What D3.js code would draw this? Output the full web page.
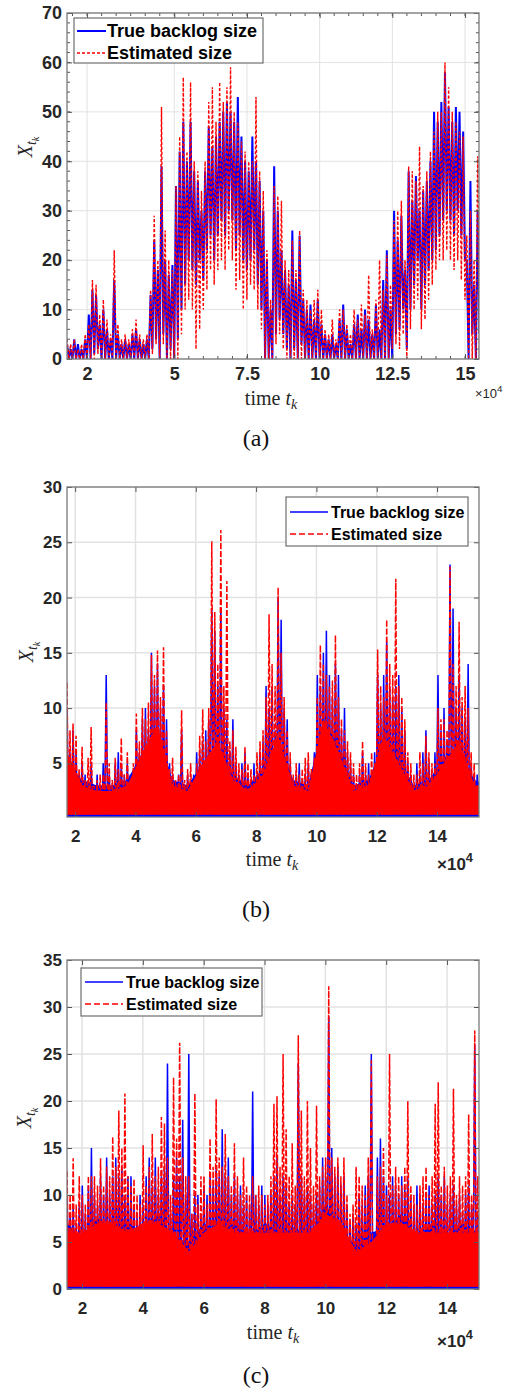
<!DOCTYPE html>
<html><head><meta charset="utf-8">
<script src="https://cdn.jsdelivr.net/npm/d3@7"></script>
<style>body{margin:0;background:#fff}</style>
</head><body>
<svg id="chart" width="513" height="1391"></svg>
<script>
// ---------------- DATA ----------------
// Panel (a): samples every 0.125 (x1e4) starting at 1.31; peak and trough per sample
const aStart = 1.31, aStep = 0.125;
const aTruePeak = [3,2,4,3,2,4,9,14,13,7,10,6,4,16,5,3,4,3,5,6,4,3,4,13,24,18,39,20,17,19,35,42,48,40,48,38,36,30,38,47,43,45,48,50,52,50,48,53,45,40,38,45,40,36,30,20,10,39,30,22,18,15,26,16,25,12,10,11,8,12,7,5,4,5,3,8,11,6,3,7,9,6,10,8,5,11,6,16,22,10,30,24,29,18,38,32,37,30,34,36,40,50,48,52,58,51,48,51,50,46,20,36,15,30];
const aTrueLow  = [0,0,0,0,0,0,0,1,2,0,0,0,0,0,0,0,0,0,0,0,0,0,0,2,4,0,5,0,2,0,4,10,15,20,18,15,20,16,22,25,20,25,28,25,30,28,22,25,20,18,20,22,15,10,0,0,0,5,8,5,2,0,2,0,3,0,0,0,0,0,0,0,0,0,0,0,0,0,0,0,0,0,0,0,0,0,0,0,0,0,5,6,10,2,10,15,20,10,15,18,20,22,25,28,30,28,25,30,25,20,0,5,0,5];
const aEstPeak  = [4,3,4,2,3,5,7,16,15,9,12,8,5,22,7,4,5,4,6,8,5,4,5,14,29,20,51,26,20,18,35,45,57,42,56,40,38,34,40,52,55,48,56,52,55,59,50,48,44,42,40,40,53,38,34,22,12,35,33,32,20,18,24,18,26,14,12,10,12,14,10,6,5,8,4,10,10,7,5,10,8,11,9,17,6,12,20,14,21,15,28,30,32,20,39,38,36,43,35,38,42,46,50,50,60,55,50,48,46,45,25,30,20,41];
const aEstLow   = [0,0,0,0,0,0,0,0,1,0,0,0,0,0,0,0,0,0,0,0,0,0,0,1,3,0,3,0,0,0,0,5,10,12,10,2,6,10,14,18,15,18,20,18,22,20,14,16,10,12,15,14,10,6,0,0,0,3,5,2,0,0,0,0,0,0,0,0,0,0,0,0,0,0,0,0,0,0,0,0,0,0,0,0,0,0,0,0,0,2,3,2,5,0,6,10,12,6,8,12,15,18,20,20,22,20,18,20,16,12,0,0,0,0];

// Panel (b): spikes every 0.1 (x1e4) starting at 1.73, returning to a baseline
const bStart = 1.73, bStep = 0.1;
const bTruePeak = [10,6,8,6,4,5,4,3,5,3,4,3,5,13,4,3,5,6,5,4,5,4,3,8,6,9,10,8,15,12,14,10,12,9,5,4,3,4,8,3,4,3,4,6,6,7,8,9,19,17,12,19,10,9,6,9,5,4,5,6,4,3,5,4,6,7,12,10,12,8,20,18,10,9,5,3,4,5,3,4,5,4,6,13,12,15,17,13,11,14,13,8,10,6,5,4,3,4,6,4,5,4,6,13,10,13,16,12,11,12,13,10,8,5,4,3,5,4,6,8,5,4,6,13,8,10,7,23,19,10,13,10,9,14,5,4,4];
const bEstPeak  = [12.3,8,8.6,7.5,4.5,6.5,3.5,5.5,8.3,3,3.5,4,4,10.5,5,3.5,5.5,4.5,7.3,4,6,3.5,5,9.5,7,10,9,10.5,14.8,13,15.2,11,15.5,8,4.5,5.5,3.5,4,9.8,3.5,4.5,5,3.5,5,7.5,9.9,7,10,25.1,18.7,14,26.1,12,21.5,7,8,6.5,5,4.5,6.5,5,4.5,4,6,7,8,11,18.5,14,12,20.9,15,11,8,6,4,5,4,4.5,5.5,6,4.5,5.5,11,15.7,14,13,12,12.5,16.6,11,9,8,7,6,5,4,5,7,5,4,6,5,15.3,12,11,18,14,13,21.7,12,11,9,6,5,4,4,6,5,7.5,6,5,5,10,9,9,8,22.8,14,12,17.8,11,12,10,6,5,3];
const bTrueBase = 0, bEstBase = 0.35;
// Panel (b): upper edge of the dense band, every 0.5 (x1e4) from 1.73
const bBandStart = 1.73, bBandStep = 0.5;
const bTrueBand = [5,3.5,3,3,3.5,6,8,3.5,3,5,6.5,4,3,4.5,7,3.5,3,9,6.5,3,3.5,7,5.5,3,3.5,5.5,6.5,3.5,3];
const bEstBand  = [6,3,2.5,2.5,3,6,8.5,3,2.5,5,7,3.5,2.5,4,7.5,3,2.5,9,6,2.5,3,7.5,5,2.5,3,5,7,3,3];

// Panel (c): spikes every 0.1 (x1e4) starting at 1.51
const cStart = 1.51, cStep = 0.1;
const cTruePeak = [10,8,9,7,9,11,8,11,15,10,9,12,10,14,10,12,14,12,13,10,12,12,9,8,10,9,12,14,11,14,10,12,13,24,8,12,14,12,18,10,25,8,10,10,8,11,10,12,11,13,12,17,12,14,10,12,10,11,9,10,9,21,10,9,11,10,9,10,12,14,10,12,11,9,10,9,24,12,10,11,10,9,10,11,14,12,29,15,12,13,11,12,9,7,8,7,10,9,11,12,25,3,14,16,12,11,10,12,11,10,12,11,12,10,9,11,10,9,10,11,9,10,12,10,12,9,10,11,9,10,8,10,11,9,26,8];
const cEstPeak  = [12.5,10,13.9,9,12,10,9,12,12,12,11,13.9,11,13,12,16.2,13,19,15,20.8,12,11,11.7,10,9,15.3,11,13,16.5,12,13,18.3,17.6,14,10,22.5,16,26.2,14,12,12,8,20.8,9,12,12,9,16,13,20.2,14,13,16.5,12,11,15.5,12,10,14,11,10,12,10,11,10,9,10,12,19.7,20.5,13,25,17,12,15.5,11,27,19,12,20,15,11,19.5,12,13,14,32.2,14,13,14,12,14,10,8,9,13,12,11,10,14,24.3,4,12,13,15,10,25,11,13,12,11,13,20,11,10,9,11,12,13,10,12,19.7,22,11,13,11,12,21.3,10,12,11,12,18.6,10,27.5,12];
const cTrueBase = 0, cEstBase = 0.25;
// Panel (c): upper edge of the dense band, every 0.5 (x1e4) from 1.51
const cBandStart = 1.51, cBandStep = 0.5;
const cTrueBand = [7,5.5,7.5,6.5,7,6,8,5.5,5,7,6,7,5.5,7,6,6.5,5.5,9,6.5,4.5,6,6.5,8,5.5,7,5.5,7,6,6];
const cEstBand  = [6,6,7,7,6,7,7,6,4,6,7,6,6,6,6,6,6,8,7,4,5,7,7,6,6,6,6,6,6];

// Axis ticks and labels
const aYTicks = [0,10,20,30,40,50,60,70];
const aXTicks = [2,5,7.5,10,12.5,15];
const bYTicks = [5,10,15,20,25,30];
const bXTicks = [2,4,6,8,10,12,14];
const cYTicks = [0,5,10,15,20,25,30,35];
const cXTicks = [2,4,6,8,10,12,14];
const seriesNames = ["True backlog size", "Estimated size"];
const captions = ["(a)", "(b)", "(c)"];

// ---------------- DRAW ----------------
const svg = d3.select("#chart");
const L = 67, R = 479;
const BLUE = "#0000ff", RED = "#ff0000";

function zig(peaks, lows, t0, step) {
  const pts = [];
  peaks.forEach((p, i) => {
    pts.push([t0 + i * step, p]);
    const lo = Array.isArray(lows) ? lows[i] : lows;
    pts.push([t0 + (i + 0.5) * step, lo]);
  });
  return pts;
}

function drawPanel(cfg) {
  const x = d3.scaleLinear().domain(cfg.xDomain).range([L, R]);
  const y = d3.scaleLinear().domain(cfg.yDomain).range([cfg.bottom, cfg.top]);
  const g = svg.append("g");
  const gridW = cfg.gridW;
  // grid
  g.append("g").selectAll("line").data(cfg.xTicks).join("line")
    .attr("x1", d => x(d)).attr("x2", d => x(d)).attr("y1", cfg.top).attr("y2", cfg.bottom)
    .attr("stroke", "#e2e2e2").attr("stroke-width", gridW);
  g.append("g").selectAll("line").data(cfg.yTicks).join("line")
    .attr("x1", L).attr("x2", R).attr("y1", d => y(d)).attr("y2", d => y(d))
    .attr("stroke", "#e2e2e2").attr("stroke-width", gridW);

  // clip
  const cid = "clip-" + cfg.name;
  svg.append("clipPath").attr("id", cid).append("rect")
    .attr("x", L).attr("y", cfg.top).attr("width", R - L).attr("height", cfg.bottom - cfg.top);
  const line = d3.line().x(d => x(d[0])).y(d => y(d[1]));
  const dg = g.append("g").attr("clip-path", `url(#${cid})`);

  function band(vals, base, color) {
    if (!vals) return;
    const area = d3.area()
      .x((d, i) => x(cfg.bandStart + i * cfg.bandStep))
      .y0(y(Math.max(base, cfg.yDomain[0] - 1)))
      .y1(d => y(d));
    dg.append("path").datum(vals).attr("d", area).attr("fill", color);
  }

  band(cfg.trueBand, cfg.trueLow, BLUE);
  dg.append("path").datum(zig(cfg.truePeak, cfg.trueLow, cfg.start, cfg.step))
    .attr("d", line).attr("fill", "none").attr("stroke", BLUE)
    .attr("stroke-width", cfg.blueW).attr("stroke-linejoin", "miter").attr("stroke-miterlimit", 2);
  band(cfg.estBand, cfg.estLow, RED);
  dg.append("path").datum(zig(cfg.estPeak, cfg.estLow, cfg.start, cfg.step))
    .attr("d", line).attr("fill", "none").attr("stroke", RED)
    .attr("stroke-width", cfg.redW).attr("stroke-dasharray", cfg.dash)
    .attr("stroke-linejoin", "miter").attr("stroke-miterlimit", 2);

  // axes (inward ticks)
  const fmt = d => String(d);
  const ax = g.append("g").attr("transform", `translate(0,${cfg.bottom})`)
    .call(d3.axisBottom(x).tickValues(cfg.xTicks).tickSize(-5).tickPadding(cfg.xPad).tickFormat(fmt));
  const ay = g.append("g").attr("transform", `translate(${L},0)`)
    .call(d3.axisLeft(y).tickValues(cfg.yTicks).tickSize(-5).tickPadding(5).tickFormat(fmt));
  const at = g.append("g").attr("transform", `translate(0,${cfg.top})`)
    .call(d3.axisTop(x).tickValues(cfg.xTicks).tickSize(-5).tickFormat(""));
  const ar = g.append("g").attr("transform", `translate(${R},0)`)
    .call(d3.axisRight(y).tickValues(cfg.yTicks).tickSize(-5).tickFormat(""));
  [ax, ay, at, ar].forEach(a => {
    a.select(".domain").remove();
    a.selectAll(".tick line").attr("stroke", "#555").attr("stroke-width", 1);
    a.selectAll("text").attr("font-family", "'Liberation Sans', Arial, sans-serif")
      .attr("font-weight", "bold").attr("font-size", cfg.tickFont).attr("fill", "#262626");
  });
  if (cfg.minor) {
    const mx = d3.range(Math.ceil(cfg.xDomain[0] * 2) / 2, cfg.xDomain[1], 0.5);
    const my = d3.range(cfg.yDomain[0], cfg.yDomain[1], 2);
    g.append("g").selectAll("line").data(mx).join("line")
      .attr("x1", d => x(d)).attr("x2", d => x(d)).attr("y1", cfg.bottom).attr("y2", cfg.bottom - 3)
      .attr("stroke", "#555");
    g.append("g").selectAll("line").data(mx).join("line")
      .attr("x1", d => x(d)).attr("x2", d => x(d)).attr("y1", cfg.top).attr("y2", cfg.top + 3)
      .attr("stroke", "#555");
    g.append("g").selectAll("line").data(my).join("line")
      .attr("x1", L).attr("x2", L + 3).attr("y1", d => y(d)).attr("y2", d => y(d)).attr("stroke", "#555");
    g.append("g").selectAll("line").data(my).join("line")
      .attr("x1", R).attr("x2", R - 3).attr("y1", d => y(d)).attr("y2", d => y(d)).attr("stroke", "#555");
  }
  // box
  g.append("rect").attr("x", L).attr("y", cfg.top).attr("width", R - L).attr("height", cfg.bottom - cfg.top)
    .attr("fill", "none").attr("stroke", "#7a7a7a").attr("stroke-width", 1.3);

  // x label: time t_k
  const xl = g.append("text").attr("x", cfg.xLabelX).attr("y", cfg.xLabelY)
    .attr("text-anchor", "middle").attr("font-family", "'Liberation Serif', 'Times New Roman', serif")
    .attr("font-size", cfg.labelFont).attr("fill", "#262626");
  xl.append("tspan").text("time ");
  xl.append("tspan").attr("font-style", "italic").text("t");
  xl.append("tspan").attr("font-style", "italic").attr("font-size", cfg.labelFont * 0.7).attr("dy", 4).text("k");

  // y label: X_{t_k}
  const yl = g.append("text").attr("transform", `translate(${cfg.yLabelX},${cfg.yLabelY}) rotate(-90)`)
    .attr("text-anchor", "middle").attr("font-family", "'Liberation Serif', 'Times New Roman', serif")
    .attr("font-size", cfg.labelFont).attr("font-style", "italic").attr("fill", "#262626");
  yl.append("tspan").text("X");
  yl.append("tspan").attr("font-size", cfg.labelFont * 0.7).attr("dy", 4).text("t");
  yl.append("tspan").attr("font-size", cfg.labelFont * 0.5).attr("dy", 3).text("k");

  // exponent x10^4
  const ex = g.append("text").attr("x", cfg.expX).attr("y", cfg.expY)
    .attr("font-family", "'Liberation Sans', Arial, sans-serif").attr("font-size", cfg.expFont)
    .attr("font-weight", cfg.expWeight).attr("fill", "#262626");
  ex.append("tspan").text("\u00d710");
  ex.append("tspan").attr("font-size", cfg.expFont * 0.75).attr("dy", -cfg.expFont * 0.45).text("4");

  // legend
  const lg = cfg.legend;
  g.append("rect").attr("x", lg.x).attr("y", lg.y).attr("width", lg.w).attr("height", lg.h)
    .attr("fill", "#fff").attr("stroke", "#6e6e6e").attr("stroke-width", 1.2);
  const styles = [
    {c: BLUE, w: cfg.blueW, dash: null},
    {c: RED, w: cfg.redW, dash: lg.dash}
  ];
  seriesNames.forEach((name, i) => {
    const ry = lg.rows[i];
    g.append("line").attr("x1", lg.lx1).attr("x2", lg.lx2).attr("y1", ry).attr("y2", ry)
      .attr("stroke", styles[i].c).attr("stroke-width", styles[i].w)
      .attr("stroke-dasharray", styles[i].dash);
    g.append("text").attr("x", lg.tx).attr("y", ry).attr("dy", "0.36em")
      .attr("font-family", "'Liberation Sans', Arial, sans-serif").attr("font-weight", "bold")
      .attr("font-size", lg.font).attr("fill", "#000").text(name);
  });

  // caption
  g.append("text").attr("x", 256).attr("y", cfg.capY).attr("text-anchor", "middle")
    .attr("font-family", "'Liberation Serif', 'Times New Roman', serif").attr("font-size", 24)
    .attr("fill", "#111").text(cfg.caption);
}

drawPanel({
  name: "a", top: 13, bottom: 359, xDomain: [1.31, 15.48], yDomain: [0, 70],
  xTicks: aXTicks, yTicks: aYTicks, start: aStart, step: aStep,
  truePeak: aTruePeak, trueLow: aTrueLow, estPeak: aEstPeak, estLow: aEstLow,
  blueW: 2, redW: 1.4, dash: "3,2", gridW: 1, tickFont: 18, xPad: 8, minor: true,
  labelFont: 20, xLabelX: 271, xLabelY: 405, yLabelX: 32, yLabelY: 147,
  expX: 475, expY: 398, expFont: 13, expWeight: "normal",
  legend: {x: 74, y: 18, w: 189, h: 45, rows: [31, 53], lx1: 77, lx2: 106, tx: 107, font: 18, dash: "3,2"},
  caption: captions[0], capY: 446
});
drawPanel({
  name: "b", top: 487, bottom: 817, xDomain: [1.73, 15.39], yDomain: [0.15, 30],
  xTicks: bXTicks, yTicks: bYTicks, start: bStart, step: bStep,
  truePeak: bTruePeak, trueLow: bTrueBase, estPeak: bEstPeak, estLow: bEstBase,
  bandStart: bBandStart, bandStep: bBandStep, trueBand: bTrueBand, estBand: bEstBand,
  blueW: 1.5, redW: 1.5, dash: "6,2", gridW: 1.5, tickFont: 17, xPad: 13, minor: false,
  labelFont: 20, xLabelX: 272, xLabelY: 866, yLabelX: 33, yLabelY: 652,
  expX: 437, expY: 870, expFont: 17, expWeight: "bold",
  legend: {x: 286, y: 497, w: 182, h: 49, rows: [512, 534], lx1: 290, lx2: 328, tx: 331, font: 16, dash: "6,3"},
  caption: captions[1], capY: 917
});
drawPanel({
  name: "c", top: 960, bottom: 1289, xDomain: [1.507, 15.05], yDomain: [0, 35],
  xTicks: cXTicks, yTicks: cYTicks, start: cStart, step: cStep,
  truePeak: cTruePeak, trueLow: cTrueBase, estPeak: cEstPeak, estLow: cEstBase,
  bandStart: cBandStart, bandStep: cBandStep, trueBand: cTrueBand, estBand: cEstBand,
  blueW: 1.5, redW: 1.5, dash: "6,2", gridW: 1.5, tickFont: 17, xPad: 13, minor: false,
  labelFont: 20, xLabelX: 273, xLabelY: 1339, yLabelX: 31, yLabelY: 1118,
  expX: 437, expY: 1347, expFont: 17, expWeight: "bold",
  legend: {x: 81, y: 968, w: 181, h: 48, rows: [982, 1004], lx1: 85, lx2: 123, tx: 126, font: 16, dash: "6,3"},
  caption: captions[2], capY: 1383
});
</script>
</body></html>
